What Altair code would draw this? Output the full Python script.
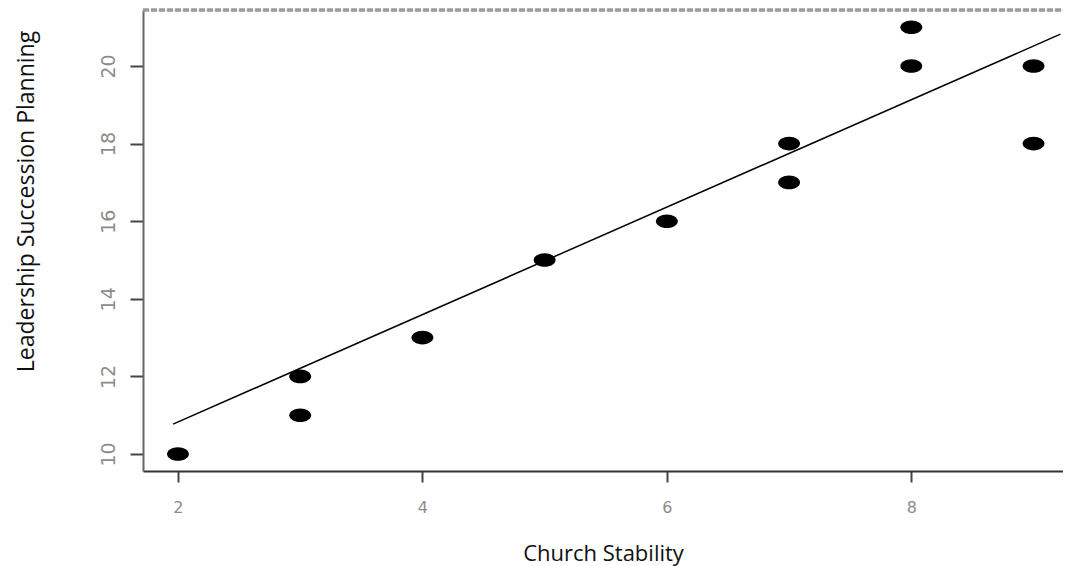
import altair as alt
import pandas as pd

# data
stability = [2, 3, 3, 4, 5, 6, 7, 7, 8, 8, 9, 9]
succession = [10, 11, 12, 13, 15, 16, 17, 18, 20, 21, 18, 20]
fit_x = [1.96, 9.22]
fit_y = [10.77, 20.82]
x_ticks = [2, 4, 6, 8]
y_ticks = [10, 12, 14, 16, 18, 20]

pts = pd.DataFrame({"x": stability, "y": succession})
fit = pd.DataFrame({"x": fit_x, "y": fit_y})

xs = alt.Scale(domain=[1.714, 9.241], nice=False, zero=False)
ys = alt.Scale(domain=[9.562, 21.443], nice=False, zero=False)

ellipse = "M-1,0 A1,0.62 0 1,0 1,0 A1,0.62 0 1,0 -1,0 Z"

x_axis = alt.Axis(values=x_ticks, title="Church Stability")
y_axis = alt.Axis(values=y_ticks, title="Leadership Succession Planning")

points = alt.Chart(pts).mark_point(
    shape=ellipse, filled=True, color="black", opacity=1, size=480
).encode(
    x=alt.X("x:Q", scale=xs, axis=x_axis),
    y=alt.Y("y:Q", scale=ys, axis=y_axis),
)

line = alt.Chart(fit).mark_line(color="black", strokeWidth=1.5).encode(
    x=alt.X("x:Q", scale=xs, axis=x_axis),
    y=alt.Y("y:Q", scale=ys, axis=y_axis),
)

top = alt.Chart(fit).mark_rule(color="#9a9a9a", strokeWidth=3, strokeDash=[6, 2]).encode(
    x=alt.value(0), x2=alt.value(920), y=alt.value(0)
)

chart = alt.layer(points, line, top).properties(
    width=920, height=461,
    autosize=alt.AutoSizeParams(type="none"),
    padding={"left": 135, "top": 2, "right": 0, "bottom": 95},
).configure_view(stroke=None).configure(background="white").configure_axis(
    grid=False, domainWidth=2, tickWidth=2, titleFontWeight="normal",
    titleColor="#111111", titleFont="Open Sans", labelColor="#8c8c8c", labelFont="DejaVu Sans",
).configure_axisX(
    domainColor="#333333", tickColor="#444444", tickSize=11,
    labelFontSize=16, labelPadding=17, titleFontSize=22,
    titleX=460, titleY=89, titleBaseline="alphabetic", titleAlign="center",
).configure_axisY(
    domainColor="#666666", tickColor="#444444", tickSize=13,
    labelFontSize=19, labelPadding=12, labelAngle=-90, labelAlign="center", labelBaseline="bottom",
    titleFontSize=23, titleX=-110, titleY=191, titleAngle=-90,
    titleBaseline="alphabetic", titleAlign="center",
)

chart.save("out.html", embed_options={"renderer": "svg", "actions": False})
